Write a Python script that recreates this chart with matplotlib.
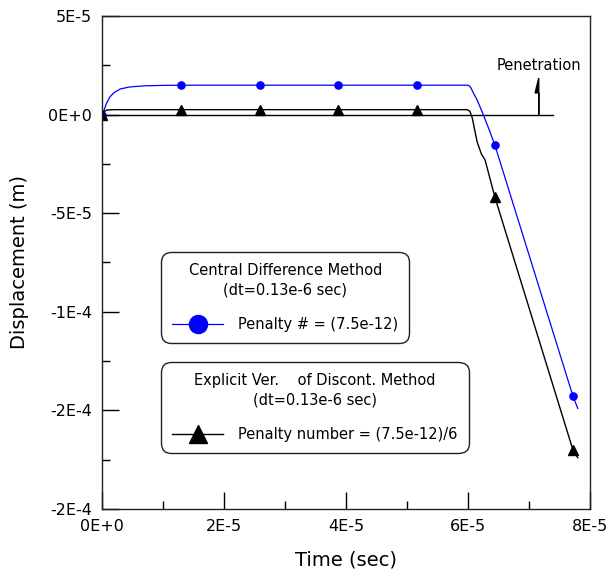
import numpy as np
import matplotlib.pyplot as plt
from matplotlib.lines import Line2D

plt.rcParams['font.family'] = ['DejaVu Sans']

# central difference run (blue) - curve points
cd_t = [0, 0.03e-5, 0.07e-5, 0.13e-5, 0.2e-5, 0.3e-5, 0.45e-5, 0.7e-5, 1.0e-5, 1.3e-5,
        6.0e-5, 6.04e-5, 6.08e-5, 6.15e-5, 6.25e-5, 6.33e-5, 6.44e-5, 7.72e-5, 7.8e-5]
cd_u = [0, 0.2e-5, 0.55e-5, 0.9e-5, 1.12e-5, 1.3e-5, 1.4e-5, 1.46e-5, 1.48e-5, 1.49e-5,
        1.49e-5, 1.4e-5, 1.15e-5, 0.74e-5, 0.0, -0.63e-5, -1.54e-5, -14.27e-5, -14.9e-5]
# sampled points shown with symbols
cd_mt = [0, 1.295e-5, 2.59e-5, 3.87e-5, 5.16e-5, 6.44e-5, 7.72e-5]
cd_mu = [0, 1.49e-5, 1.49e-5, 1.49e-5, 1.49e-5, -1.54e-5, -14.27e-5]

# explicit discontinuous run (black)
ex_t = [0, 0.03e-5, 0.08e-5, 0.2e-5, 5.98e-5, 6.03e-5, 6.07e-5, 6.15e-5,
        6.22e-5, 6.28e-5, 6.44e-5, 7.72e-5, 7.8e-5]
ex_u = [0, 0.15e-5, 0.23e-5, 0.25e-5, 0.25e-5, 0.18e-5, -0.17e-5, -1.39e-5,
        -2.0e-5, -2.3e-5, -4.18e-5, -17.0e-5, -17.4e-5]
ex_mt = [0, 1.295e-5, 2.59e-5, 3.87e-5, 5.16e-5, 6.44e-5, 7.72e-5]
ex_mu = [0, 0.25e-5, 0.25e-5, 0.25e-5, 0.25e-5, -4.18e-5, -17.0e-5]

# reference line and penetration arrow
ref_end = 7.4e-5
pen_t = 7.16e-5
pen_top = 1.85e-5

xticks = [0, 2e-5, 4e-5, 6e-5, 8e-5]
xlabels = ['0E+0', '2E-5', '4E-5', '6E-5', '8E-5']
yticks = [5e-5, 0, -5e-5, -1e-4, -1.5e-4, -2e-4]
ylabels = ['5E-5', '0E+0', '-5E-5', '-1E-4', '-2E-4', '-2E-4']

fig = plt.figure(figsize=(6.11, 5.75), dpi=100)
ax = fig.add_axes([0.167, 0.1148, 0.7986, 0.8574])

ax.plot([0, ref_end], [0, 0], color='black', lw=1.0)

ax.plot(cd_t, cd_u, color='#0000ff', lw=0.9)
ax.plot(cd_mt, cd_mu, 'o', color='#0000ff', ms=5.2, ls='none')
ax.plot(ex_t, ex_u, color='black', lw=1.0)
ax.plot(ex_mt, ex_mu, '^', color='black', ms=7, ls='none')

ax.arrow(pen_t, 0, 0, pen_top, shape='right', width=0, head_width=1.2e-6,
         head_length=0.75e-5, length_includes_head=True, fc='black', ec='black', lw=1)
ax.text(pen_t, 2.5e-5, 'Penetration', ha='center', va='center', fontsize=10.5)

ax.set_xlim(0, 8e-5)
ax.set_ylim(-2e-4, 5e-5)
ax.set_xticks(xticks)
ax.set_xticklabels(xlabels)
ax.set_yticks(yticks)
ax.set_yticklabels(ylabels)
ax.set_xticks(np.arange(1e-5, 8e-5, 2e-5), minor=True)
ax.set_yticks(np.arange(-1.75e-4, 5e-5, 5e-5), minor=True)
ax.tick_params(which='major', direction='in', length=12, width=1, labelsize=11.5, pad=7)
ax.tick_params(which='minor', direction='in', length=6, width=1)
for s in ax.spines.values():
    s.set_linewidth(1)
    s.set_color('#222222')

ax.set_xlabel('Time (sec)', fontsize=14, labelpad=12)
ax.set_ylabel('Displacement (m)', fontsize=14, labelpad=14)


def boxed_legend(handle, label, title, anchor, mscale):
    leg = ax.legend([handle], [label], title=title, loc='upper left',
                    bbox_to_anchor=anchor, borderaxespad=0,
                    fontsize=10.5, title_fontsize=10.5, markerscale=mscale,
                    handlelength=3.5, handletextpad=1.05, labelspacing=1.35,
                    fancybox=True, framealpha=1, edgecolor='#222222', borderpad=0.75)
    leg.get_title().set_multialignment('center')
    leg.get_title().set_linespacing(1.35)
    leg.get_frame().set_boxstyle('round', pad=0, rounding_size=0.7)
    leg.get_frame().set_linewidth(1)
    return leg


# two separate legend boxes
h1 = Line2D([], [], color='#0000ff', marker='o', ms=5.2, lw=0.9)
leg1 = boxed_legend(h1, 'Penalty # = (7.5e-12)',
                    'Central Difference Method\n(dt=0.13e-6 sec)', (0.121, 0.521), 2.5)
ax.add_artist(leg1)

h2 = Line2D([], [], color='black', marker='^', ms=7, lw=1.0)
leg2 = boxed_legend(h2, 'Penalty number = (7.5e-12)/6',
                    'Explicit Ver.    of Discont. Method\n(dt=0.13e-6 sec)', (0.121, 0.298), 1.75)

fig.savefig('out.png', dpi=100)
